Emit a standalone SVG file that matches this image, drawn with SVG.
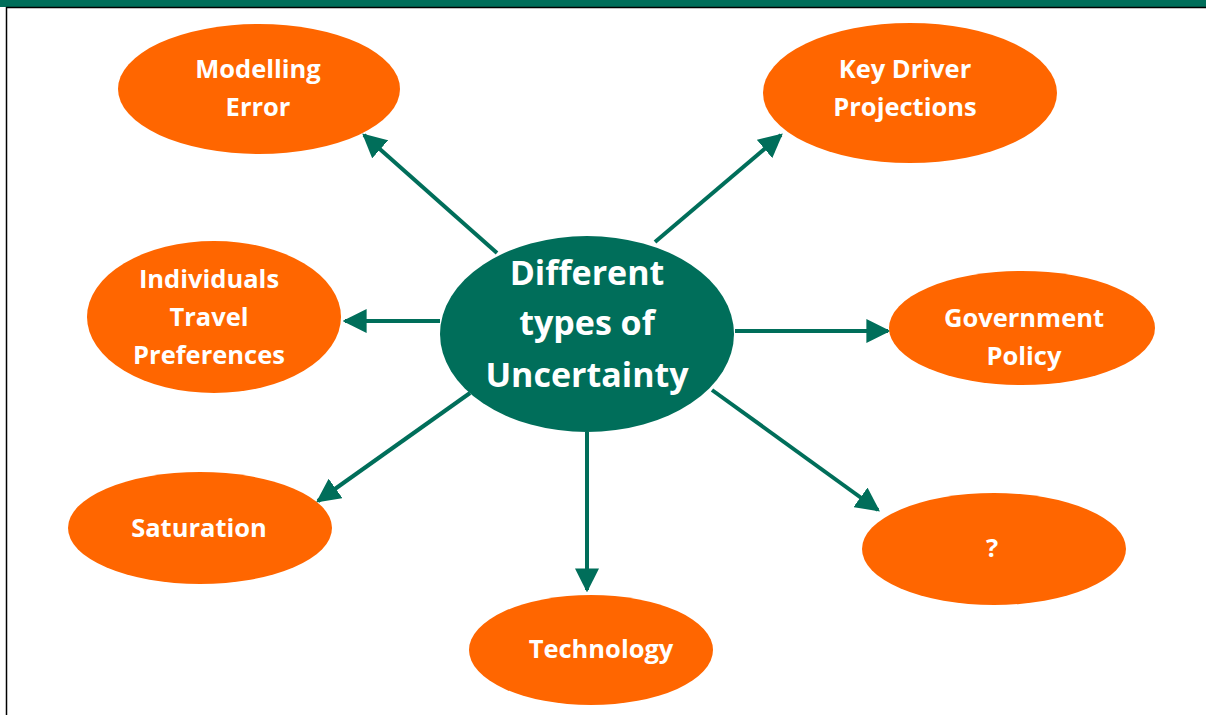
<svg xmlns="http://www.w3.org/2000/svg" width="1206" height="715" viewBox="0 0 1206 715">
  <defs>
    <marker id="head" viewBox="0 0 10 10" refX="9" refY="5" markerWidth="6" markerHeight="6" markerUnits="strokeWidth" orient="auto">
      <path d="M0,0 L10,5 L0,10 z" fill="#006E5A"/>
    </marker>
    <style>
      .leaf { fill: #FF6600; }
      .hub { fill: #006E5A; }
      .lbl { fill: #FFFFFF; font-family: "Open Sans", "DejaVu Sans", sans-serif; font-weight: bold; font-size: 25.5px; text-anchor: middle; }
      .hubl { font-size: 34px; }
      .link { stroke: #006E5A; stroke-width: 4; fill: none; marker-end: url(#head); }
    </style>
  </defs>

  <rect x="0" y="0" width="1206" height="715" fill="#FFFFFF"/>
  <!-- header band -->
  <rect x="0" y="0" width="1206" height="7" fill="#006E5A"/>
  <line x1="6" y1="7.5" x2="1206" y2="7.5" stroke="#000000" stroke-width="1.5"/>
  <line x1="6.5" y1="7" x2="6.5" y2="715" stroke="#000000" stroke-width="1.5"/>

  <g id="connectors">
    <line class="link" x1="497" y1="253" x2="364" y2="135"/>
    <line class="link" x1="655" y1="242" x2="781" y2="135"/>
    <line class="link" x1="440" y1="321" x2="345" y2="321"/>
    <line class="link" x1="735" y1="331" x2="888" y2="331"/>
    <line class="link" x1="470" y1="393" x2="318" y2="501"/>
    <line class="link" x1="587" y1="432" x2="587" y2="590"/>
    <line class="link" x1="712" y1="390" x2="878" y2="510"/>
  </g>

  <g id="modelling-error">
    <ellipse class="leaf" cx="259" cy="89" rx="141" ry="65"/>
    <text class="lbl" x="258" y="78">Modelling</text>
    <text class="lbl" x="258" y="116">Error</text>
  </g>

  <g id="key-driver-projections">
    <ellipse class="leaf" cx="910" cy="93" rx="147" ry="70"/>
    <text class="lbl" x="905" y="78">Key Driver</text>
    <text class="lbl" x="905" y="116">Projections</text>
  </g>

  <g id="individuals-travel-preferences">
    <ellipse class="leaf" cx="214" cy="317" rx="127" ry="76"/>
    <text class="lbl" x="209" y="288">Individuals</text>
    <text class="lbl" x="209" y="326">Travel</text>
    <text class="lbl" x="209" y="364">Preferences</text>
  </g>

  <g id="government-policy">
    <ellipse class="leaf" cx="1022" cy="328" rx="133" ry="57"/>
    <text class="lbl" x="1024" y="327">Government</text>
    <text class="lbl" x="1024" y="365">Policy</text>
  </g>

  <g id="saturation">
    <ellipse class="leaf" cx="200" cy="528" rx="132" ry="56"/>
    <text class="lbl" x="199" y="537">Saturation</text>
  </g>

  <g id="unknown">
    <ellipse class="leaf" cx="994" cy="549" rx="132" ry="56"/>
    <text class="lbl" x="992" y="557">?</text>
  </g>

  <g id="technology">
    <ellipse class="leaf" cx="591" cy="650" rx="122" ry="55"/>
    <text class="lbl" x="601" y="658">Technology</text>
  </g>

  <g id="uncertainty">
    <ellipse class="hub" cx="587" cy="334" rx="147" ry="98"/>
    <text class="lbl hubl" x="587" y="285">Different</text>
    <text class="lbl hubl" x="587" y="335">types of</text>
    <text class="lbl hubl" x="587" y="387">Uncertainty</text>
  </g>
</svg>
